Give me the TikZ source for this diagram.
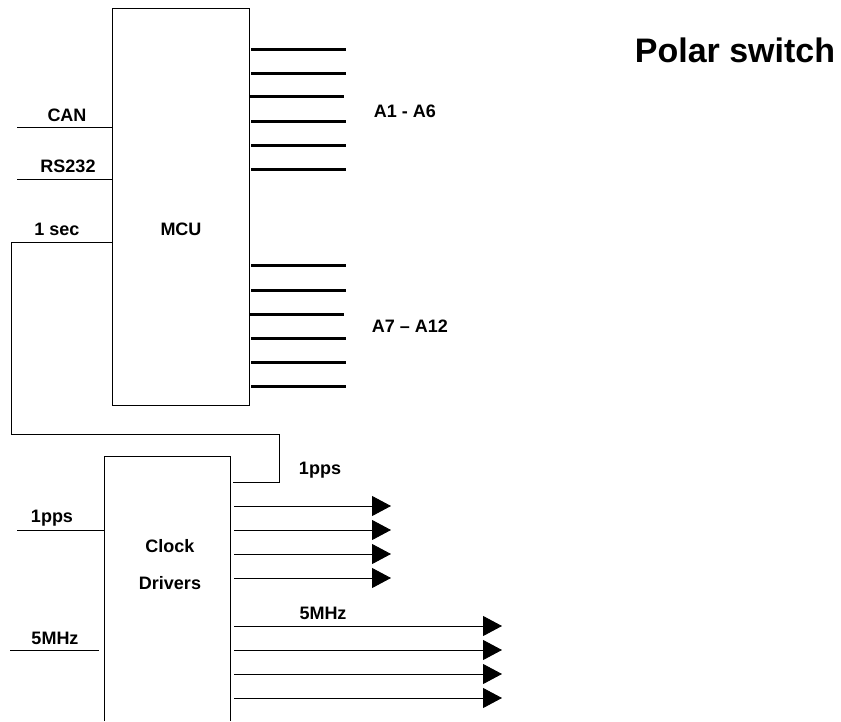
\documentclass[tikz,border=0pt]{standalone}
\usepackage{fontspec}
\setmainfont{Liberation Sans}
\usetikzlibrary{arrows.meta}
\begin{document}
\begin{tikzpicture}[x=1pt,y=-1pt,
    block/.style={draw, line width=0.8pt},
    wire/.style={line width=0.8pt},
    bus/.style={line width=3pt},
    sig/.style={line width=0.9pt, -{Triangle[length=19pt,width=20pt]}},
    lbl/.style={font=\bfseries\fontsize{18}{21}\selectfont, inner sep=0pt}]
    \useasboundingbox (0,0) rectangle (841,722);
    % Блоки
    \node[block, minimum width=137, minimum height=397] (mcu) at (180.5,206.5) {};
    \node[minimum width=125, minimum height=264, inner sep=0pt] (clk) at (167.5,589) {};
    \draw[block] (clk.south west) -- (clk.north west) -- (clk.north east) -- (clk.south east);
    \node[lbl] (mculbl) at (181,229) {MCU};
    \node[lbl] (clklbl) at (170,546) {Clock};
    \node[lbl] (drvlbl) at (170,583) {Drivers};
    \node[lbl, font=\bfseries\fontsize{34}{40}\selectfont] (title) at (735,50) {Polar switch};
    % Входы MCU
    \coordinate (canin) at (17,127);
    \coordinate (rsin) at (17,179);
    \coordinate (secin) at (11,242);
    \draw[wire] (canin) -- (canin -| mcu.west);
    \draw[wire] (rsin) -- (rsin -| mcu.west);
    \node[lbl] (canlbl) at (67,115) {CAN};
    \node[lbl] (rslbl) at (68,166) {RS232};
    \node[lbl] (seclbl) at (57,229) {1 sec};
    % Петля 1 sec -> 1pps
    \coordinate (loopbot) at (279,434);
    \coordinate (loopend) at (233,482);
    \draw[wire] (secin -| mcu.west) -- (secin) |- (loopbot) |- (loopend);
    \node[lbl] (ppsout) at (320,470) {1pps};
    % Выходы A1 - A12
    \foreach \y in {50,74,122,146,170,266,290,338,362,386}
        \draw[bus] ([xshift=2]mcu.east |- 0,\y) -- (346,\y);
    \foreach \y in {97,314}
        \draw[bus] (mcu.east |- 0,\y) -- (344,\y);
    \node[lbl] (alo) at (405,111) {A1 - A6};
    \node[lbl] (ahi) at (410,326) {A7 – A12};
    % Входы Clock Drivers
    \coordinate (ppsin) at (17,530);
    \coordinate (mhzin) at (10,650);
    \draw[wire] (ppsin) -- (ppsin -| clk.west);
    \draw[wire] (mhzin) -- ([xshift=-6]mhzin -| clk.west);
    \node[lbl] (ppslbl) at (52,518) {1pps};
    \node[lbl] (mhzlbl) at (55,638) {5MHz};
    % Выходы Clock Drivers
    \foreach \y in {506,530,554,578}
        \draw[sig] ([xshift=4]clk.east |- 0,\y) -- (391,\y);
    \foreach \y in {626,650,674,698}
        \draw[sig] ([xshift=4]clk.east |- 0,\y) -- (502,\y);
    \node[lbl] (mhzout) at (323,613) {5MHz};
\end{tikzpicture}
\end{document}
